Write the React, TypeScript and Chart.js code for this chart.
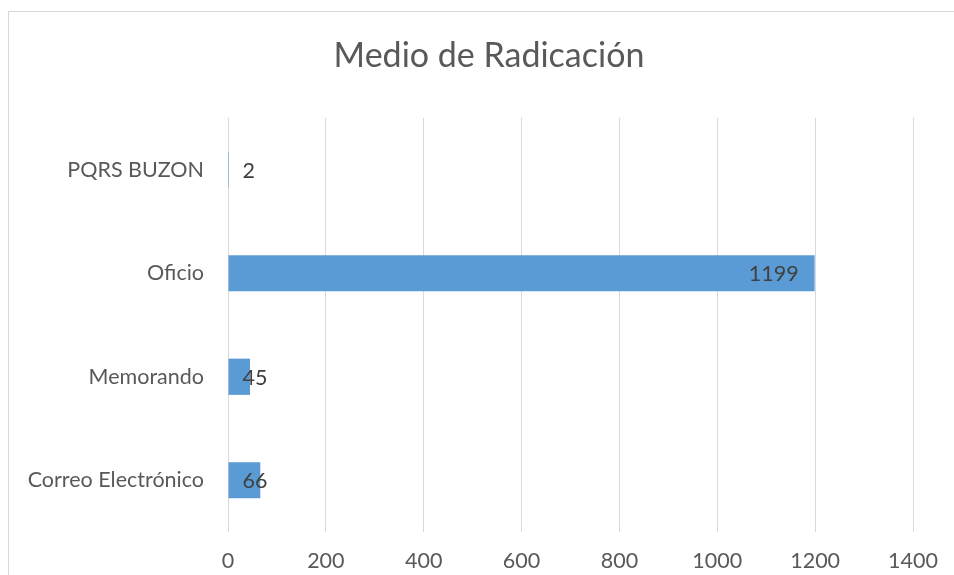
import React, { useEffect, useRef } from "react";
import { Chart, registerables } from "chart.js";

Chart.register(...registerables);

const categories = ["PQRS BUZON", "Oficio", "Memorando", "Correo Electrónico"];
const values = [2, 1199, 45, 66];
const xTicks = [0, 200, 400, 600, 800, 1000, 1200, 1400];
const titleText = "Medio de Radicación";

const FONT = "Lato, 'Open Sans', sans-serif";
const TEXT = "#595959";
const LABEL = "#404040";
const FS = 21.5;

export default function App() {
  const ref = useRef<HTMLCanvasElement | null>(null);

  useEffect(() => {
    if (!ref.current) return;
    const frame = {
      id: "frame",
      beforeDraw(chart: any) {
        const ctx = chart.ctx;
        ctx.save();
        ctx.fillStyle = "#ffffff";
        ctx.fillRect(0, 0, chart.width, chart.height);
        ctx.strokeStyle = "#d9d9d9";
        ctx.lineWidth = 1;
        ctx.strokeRect(8.5, 11.5, chart.width + 20, chart.height + 20);
        ctx.fillStyle = TEXT;
        ctx.font = `34px ${FONT}`;
        ctx.textAlign = "center";
        ctx.textBaseline = "middle";
        ctx.fillText(titleText, 489, 56);
        ctx.restore();
      },
      afterDatasetsDraw(chart: any) {
        const ctx = chart.ctx;
        const meta = chart.getDatasetMeta(0);
        ctx.save();
        ctx.font = `${FS}px ${FONT}`;
        ctx.fillStyle = LABEL;
        ctx.textBaseline = "middle";
        ctx.textAlign = "left";
        meta.data.forEach((bar: any, i: number) => {
          const txt = String(values[i]);
          const w = ctx.measureText(txt).width;
          const base = bar.base;
          const x = Math.max(bar.x - 16 - w, base + 14);
          ctx.fillText(txt, x, bar.y + 1);
        });
        ctx.restore();
      },
    };

    const chart = new Chart(ref.current, {
      type: "bar",
      data: {
        labels: categories,
        datasets: [
          {
            data: values,
            backgroundColor: "#5B9BD5",
            borderWidth: 0,
            categoryPercentage: 1,
            barPercentage: 0.35,
          },
        ],
      },
      options: {
        indexAxis: "y",
        animation: false,
        responsive: false,
        maintainAspectRatio: false,
        layout: { padding: { top: 118, right: 41, left: 0, bottom: 0 } },
        plugins: {
          legend: { display: false },
          title: { display: false },
          tooltip: { enabled: false },
        },
        scales: {
          x: {
            min: 0,
            max: 1400,
            afterBuildTicks(scale: any) {
              scale.ticks = xTicks.map((v) => ({ value: v }));
            },
            afterFit(scale: any) {
              scale.height = 43;
            },
            grid: { color: "#d9d9d9", lineWidth: 1, drawTicks: false },
            border: { display: false },
            ticks: {
              padding: 16,
              color: TEXT,
              font: { family: FONT, size: FS },
              maxRotation: 0,
              callback: (v: any) => String(v),
            },
          },
          y: {
            afterFit(scale: any) {
              scale.width = 228;
            },
            grid: { display: false, drawTicks: false },
            border: { display: false },
            ticks: {
              padding: 24,
              color: TEXT,
              font: { family: FONT, size: FS },
            },
          },
        },
      },
      plugins: [frame],
    });
    return () => chart.destroy();
  }, []);

  return (
    <div style={{ position: "fixed", left: 0, top: 0, width: 954, height: 575, overflow: "hidden" }}>
      <canvas ref={ref} width={954} height={575} style={{ display: "block" }} />
    </div>
  );
}
